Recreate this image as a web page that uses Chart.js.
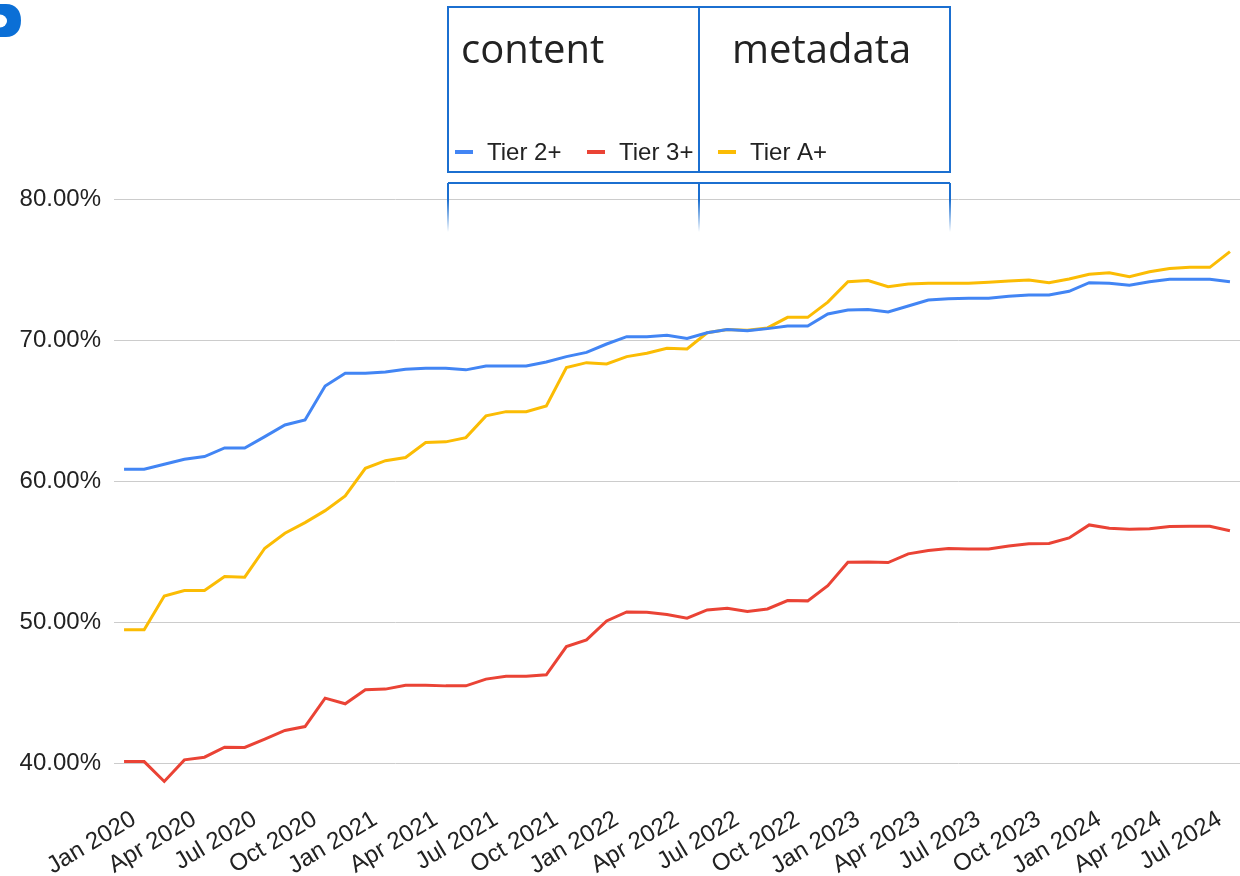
<!DOCTYPE html>
<html>
<head>
<meta charset="utf-8">
<script src="https://cdn.jsdelivr.net/npm/chart.js@4.4.1/dist/chart.umd.min.js"></script>
<style>
  html, body { margin: 0; padding: 0; background: #fff; }
  #wrap { position: relative; width: 1240px; height: 876px; }
</style>
</head>
<body>
<div id="wrap"><canvas id="tiers"></canvas></div>
<script>
// monthly categories, Jan 2020 .. Aug 2024
const months = [
  'Jan 2020', 'Feb 2020', 'Mar 2020', 'Apr 2020', 'May 2020', 'Jun 2020', 'Jul 2020', 'Aug 2020', 'Sep 2020', 'Oct 2020', 'Nov 2020', 'Dec 2020',
  'Jan 2021', 'Feb 2021', 'Mar 2021', 'Apr 2021', 'May 2021', 'Jun 2021', 'Jul 2021', 'Aug 2021', 'Sep 2021', 'Oct 2021', 'Nov 2021', 'Dec 2021',
  'Jan 2022', 'Feb 2022', 'Mar 2022', 'Apr 2022', 'May 2022', 'Jun 2022', 'Jul 2022', 'Aug 2022', 'Sep 2022', 'Oct 2022', 'Nov 2022', 'Dec 2022',
  'Jan 2023', 'Feb 2023', 'Mar 2023', 'Apr 2023', 'May 2023', 'Jun 2023', 'Jul 2023', 'Aug 2023', 'Sep 2023', 'Oct 2023', 'Nov 2023', 'Dec 2023',
  'Jan 2024', 'Feb 2024', 'Mar 2024', 'Apr 2024', 'May 2024', 'Jun 2024', 'Jul 2024', 'Aug 2024'
];

// labels actually printed under the x axis
const xTickLabels = [
  'Jan 2020', 'Apr 2020', 'Jul 2020', 'Oct 2020', 'Jan 2021', 'Apr 2021', 'Jul 2021', 'Oct 2021',
  'Jan 2022', 'Apr 2022', 'Jul 2022', 'Oct 2022', 'Jan 2023', 'Apr 2023', 'Jul 2023', 'Oct 2023',
  'Jan 2024', 'Apr 2024', 'Jul 2024'
];
const yTickValues = [40, 50, 60, 70, 80];

const tier2 = [
  60.86, 60.86, 61.22, 61.57, 61.76, 62.37, 62.37, 63.17, 64.00, 64.35,
  66.76, 67.66, 67.66, 67.75, 67.94, 68.01, 68.01, 67.90, 68.18, 68.18,
  68.18, 68.46, 68.84, 69.14, 69.73, 70.25, 70.25, 70.35, 70.13, 70.53,
  70.76, 70.67, 70.82, 71.00, 71.00, 71.86, 72.14, 72.18, 72.00, 72.42,
  72.85, 72.94, 72.97, 72.97, 73.11, 73.20, 73.20, 73.46, 74.07, 74.03,
  73.89, 74.14, 74.31, 74.31, 74.31, 74.14
];
const tier3 = [
  40.16, 40.16, 38.75, 40.28, 40.47, 41.18, 41.16, 41.75, 42.36, 42.64,
  44.65, 44.25, 45.24, 45.29, 45.57, 45.57, 45.52, 45.52, 46.00, 46.20,
  46.20, 46.30, 48.30, 48.78, 50.12, 50.76, 50.74, 50.57, 50.31, 50.90,
  51.02, 50.78, 50.97, 51.56, 51.54, 52.62, 54.28, 54.30, 54.25, 54.87,
  55.10, 55.24, 55.22, 55.22, 55.43, 55.58, 55.60, 56.00, 56.92, 56.68,
  56.62, 56.64, 56.80, 56.83, 56.83, 56.50
];
const tierA = [
  49.49, 49.49, 51.89, 52.27, 52.27, 53.26, 53.22, 55.27, 56.33, 57.08,
  57.93, 58.97, 60.93, 61.47, 61.69, 62.75, 62.80, 63.10, 64.64, 64.94,
  64.94, 65.35, 68.06, 68.41, 68.32, 68.84, 69.08, 69.43, 69.38, 70.53,
  70.76, 70.71, 70.87, 71.62, 71.62, 72.70, 74.14, 74.22, 73.79, 73.98,
  74.03, 74.03, 74.03, 74.10, 74.19, 74.26, 74.07, 74.34, 74.67, 74.78,
  74.50, 74.85, 75.07, 75.16, 75.16, 76.27
];

const BOX_BLUE = '#1b6fd0';
const FONT = '"Liberation Sans", Arial, sans-serif';

// the screenshot overlay: framed header boxes, legend and the cut-off logo
const overlayPlugin = {
  id: 'overlay',
  afterDraw(chart) {
    const ctx = chart.ctx;
    ctx.save();

    // partial logo in the top-left corner (a "D" cut by the left edge)
    ctx.fillStyle = '#0b6fd6';
    ctx.beginPath();
    ctx.moveTo(0, 4);
    ctx.lineTo(6, 4);
    ctx.bezierCurveTo(16, 4, 21, 11, 21, 20.5);
    ctx.bezierCurveTo(21, 30, 16, 37, 6, 37);
    ctx.lineTo(0, 37);
    ctx.closePath();
    ctx.fill();
    ctx.fillStyle = '#fff';
    ctx.beginPath();
    ctx.ellipse(0, 21, 7, 6.5, 0, -Math.PI / 2, Math.PI / 2);
    ctx.closePath();
    ctx.fill();

    // top frame
    ctx.strokeStyle = BOX_BLUE;
    ctx.lineWidth = 2;
    ctx.strokeRect(448, 7, 502, 165);
    ctx.beginPath();
    ctx.moveTo(699, 7);
    ctx.lineTo(699, 172);
    ctx.stroke();

    // lower frame, fading out downward
    ctx.beginPath();
    ctx.moveTo(448, 183);
    ctx.lineTo(950, 183);
    ctx.stroke();
    const fade = ctx.createLinearGradient(0, 183, 0, 232);
    fade.addColorStop(0, BOX_BLUE);
    fade.addColorStop(0.35, BOX_BLUE);
    fade.addColorStop(1, 'rgba(27,111,208,0)');
    ctx.strokeStyle = fade;
    [448, 699, 950].forEach(x => {
      ctx.beginPath();
      ctx.moveTo(x, 183);
      ctx.lineTo(x, 232);
      ctx.stroke();
    });

    ctx.fillStyle = '#222';
    ctx.font = '40px "Open Sans"';
    ctx.textBaseline = 'alphabetic';
    ctx.fillText('content', 461, 63);
    ctx.fillText('metadata', 732, 63);

    // legend
    const legendX = [455, 587, 718];
    ctx.font = '24px ' + FONT;
    chart.data.datasets.forEach((ds, i) => {
      ctx.fillStyle = ds.borderColor;
      ctx.fillRect(legendX[i], 150, 18, 4);
      ctx.fillStyle = '#222';
      ctx.fillText(ds.label, legendX[i] + 32, 160);
    });

    ctx.restore();
  }
};

new Chart(document.getElementById('tiers'), {
  type: 'line',
  data: {
    labels: months,
    datasets: [
      { label: 'Tier 2+', data: tier2, borderColor: '#4285F4' },
      { label: 'Tier 3+', data: tier3, borderColor: '#EA4335' },
      { label: 'Tier A+', data: tierA, borderColor: '#FBBC04' }
    ]
  },
  options: {
    responsive: true,
    maintainAspectRatio: false,
    animation: false,
    layout: { padding: { top: 199, left: 0, right: 0, bottom: 0 } },
    elements: {
      line: { borderWidth: 3, tension: 0 },
      point: { radius: 0 }
    },
    plugins: {
      legend: { display: false },
      tooltip: { enabled: false }
    },
    scales: {
      x: {
        offset: true,
        grid: { display: false },
        border: { display: false },
        ticks: {
          autoSkip: false,
          minRotation: 31,
          maxRotation: 31,
          padding: 12,
          labelOffset: 10,
          color: '#222',
          font: { family: FONT, size: 24 },
          callback: (v, i) => xTickLabels.includes(months[i]) ? months[i] : ''
        },
        afterFit: s => {
          s.height = 91;
          s.paddingLeft = 0;
          s.paddingRight = 0;
        }
      },
      y: {
        min: 38.5,
        max: 80,
        grid: { color: '#cccccc', drawTicks: false },
        border: { display: false },
        ticks: {
          padding: 13,
          color: '#222',
          font: { family: FONT, size: 24 },
          callback: v => v.toFixed(2) + '%'
        },
        afterBuildTicks: s => { s.ticks = yTickValues.map(v => ({ value: v })); },
        afterFit: s => { s.width = 114; }
      }
    }
  },
  plugins: [overlayPlugin]
});
</script>
</body>
</html>
